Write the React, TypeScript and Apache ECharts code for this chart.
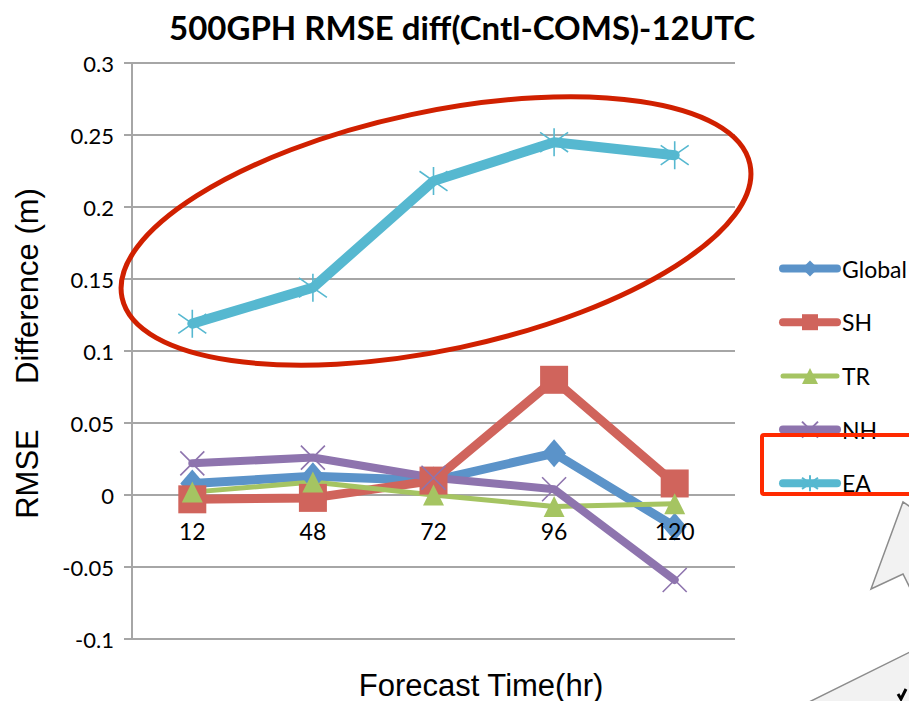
import React, { useEffect, useRef } from "react";
import * as echarts from "echarts";

// Forecast lead times (hours)
const categories = ["12", "48", "72", "96", "120"];

// RMSE difference (Cntl - COMS) of 500 hPa geopotential height, metres
const globalValues = [0.008, 0.013, 0.01, 0.029, -0.022];
const shValues = [-0.003, -0.002, 0.01, 0.08, 0.008];
const trValues = [0.002, 0.009, 0.0, -0.008, -0.006];
const nhValues = [0.022, 0.026, 0.012, 0.004, -0.059];
const eaValues = [0.119, 0.144, 0.218, 0.245, 0.236];

const seriesNames = ["Global", "SH", "TR", "NH", "EA"];

const LABEL_FONT = "Lato, 'Open Sans', sans-serif";
const AXIS_TITLE_FONT = "'Liberation Sans', Arial, sans-serif";

const X_SYMBOL = "path://M0 0L10 10M10 0L0 10";
const STAR_SYMBOL = "path://M5 0L5 10M0 1.5L10 8.5M10 1.5L0 8.5";

const Y_MIN = -0.1;
const Y_MAX = 0.3;
const GRID_TOP = 63;
const GRID_BOTTOM = 62;
const CHART_H = 701;

export default function App() {
  const ref = useRef<HTMLDivElement>(null);

  useEffect(() => {
    if (!ref.current) return;
    const chart = echarts.init(ref.current, undefined, { renderer: "svg" });

    // the category axis crosses the value axis at zero
    const plotH = CHART_H - GRID_TOP - GRID_BOTTOM;
    const zeroOffset = -plotH * ((0 - Y_MIN) / (Y_MAX - Y_MIN));

    const lineSeries = (
      name: string,
      data: number[],
      color: string,
      width: number,
      symbol: string,
      symbolSize: number | number[],
      stroked: boolean
    ) => ({
      name,
      type: "line",
      data,
      symbol,
      symbolSize,
      showAllSymbol: true,
      lineStyle: { color, width, cap: "round", join: "round" },
      itemStyle: stroked
        ? { color, borderColor: color, borderWidth: 1.6 }
        : { color, borderWidth: 0 },
      emphasis: { disabled: true },
    });

    const legendWidths: Record<string, number> = {
      Global: 8,
      SH: 8,
      TR: 5,
      NH: 8,
      EA: 8,
    };

    chart.setOption({
      animation: false,
      backgroundColor: "#ffffff",
      grid: { left: 132, right: 174, top: GRID_TOP, bottom: GRID_BOTTOM },
      legend: {
        orient: "vertical",
        left: 779,
        top: 257,
        itemWidth: 54,
        itemHeight: 20,
        itemGap: 30.7,
        padding: 0,
        data: seriesNames.map((n) => ({
          name: n,
          lineStyle: { width: legendWidths[n], cap: "round" },
        })),
        textStyle: { fontFamily: LABEL_FONT, fontSize: 23, color: "#000" },
        selectedMode: false,
      },
      xAxis: {
        type: "category",
        data: categories,
        boundaryGap: true,
        offset: zeroOffset,
        z: 5,
        axisLine: { show: false, onZero: false },
        axisTick: { show: false },
        axisLabel: {
          margin: 24,
          fontFamily: LABEL_FONT,
          fontSize: 23,
          color: "#000",
        },
        splitLine: { show: false },
      },
      yAxis: {
        type: "value",
        min: Y_MIN,
        max: Y_MAX,
        interval: 0.05,
        axisLine: { show: true, onZero: false, lineStyle: { color: "#a6a6a6", width: 2 } },
        axisTick: {
          show: true,
          length: 8,
          lineStyle: { color: "#a6a6a6", width: 2 },
        },
        axisLabel: {
          margin: 18,
          fontFamily: LABEL_FONT,
          fontSize: 22,
          color: "#000",
          formatter: (v: number) => String(Math.round(v * 100) / 100),
        },
        splitLine: { show: true, lineStyle: { color: "#a6a6a6", width: 2 } },
      },
      series: [
        lineSeries("Global", globalValues, "#5b93c9", 9, "diamond", [24, 28], false),
        lineSeries("SH", shValues, "#d0645c", 9, "rect", 28, false),
        lineSeries("TR", trValues, "#a5c462", 5, "triangle", 21, false),
        lineSeries("NH", nhValues, "#8e74ae", 8, X_SYMBOL, 24, true),
        lineSeries("EA", eaValues, "#56b8d0", 10, STAR_SYMBOL, 28, true),
      ],
      graphic: [
        {
          type: "text",
          x: 462,
          y: 27,
          style: {
            text: "500GPH RMSE diff(Cntl-COMS)-12UTC",
            fontFamily: LABEL_FONT,
            fontWeight: "bold",
            fontSize: 33,
            fill: "#000",
            textAlign: "center",
            textVerticalAlign: "middle",
          },
        },
        {
          type: "text",
          x: 27,
          y: 474,
          rotation: Math.PI / 2,
          style: {
            text: "RMSE",
            fontFamily: AXIS_TITLE_FONT,
            fontSize: 31,
            fill: "#000",
            textAlign: "center",
            textVerticalAlign: "middle",
          },
        },
        {
          type: "text",
          x: 27,
          y: 286,
          rotation: Math.PI / 2,
          style: {
            text: "Difference (m)",
            fontFamily: AXIS_TITLE_FONT,
            fontSize: 31,
            fill: "#000",
            textAlign: "center",
            textVerticalAlign: "middle",
          },
        },
        {
          type: "text",
          x: 481,
          y: 685,
          style: {
            text: "Forecast Time(hr)",
            fontFamily: AXIS_TITLE_FONT,
            fontSize: 31,
            fill: "#000",
            textAlign: "center",
            textVerticalAlign: "middle",
          },
        },
        // highlight ring around the EA curve
        {
          type: "ellipse",
          x: 436,
          y: 231,
          rotation: (12 * Math.PI) / 180,
          shape: { cx: 0, cy: 0, rx: 321, ry: 119 },
          style: { fill: "none", stroke: "#d02000", lineWidth: 5 },
          z: 10,
        },
        // box around the EA legend entry
        {
          type: "rect",
          shape: { x: 762, y: 435, width: 200, height: 59, r: 2 },
          style: { fill: "none", stroke: "#ff2a00", lineWidth: 4 },
          z: 10,
        },
        // callout shapes at the lower right
        {
          type: "polygon",
          shape: {
            points: [
              [912, 508],
              [903, 502],
              [871, 589],
              [903, 574],
              [912, 592],
            ],
          },
          style: { fill: "#f2f2f2", stroke: "#8c8c8c", lineWidth: 1.5 },
          z: 10,
        },
        {
          type: "polygon",
          shape: {
            points: [
              [807, 703],
              [912, 651],
              [912, 703],
            ],
          },
          style: { fill: "#f2f2f2", stroke: "#8c8c8c", lineWidth: 1.5 },
          z: 10,
        },
        {
          type: "polyline",
          shape: {
            points: [
              [898, 694],
              [901, 699],
              [906, 689],
            ],
          },
          style: { stroke: "#000", lineWidth: 3, fill: "none" },
          z: 11,
        },
      ],
    });

    return () => chart.dispose();
  }, []);

  return (
    <div
      ref={ref}
      style={{ position: "fixed", left: 0, top: 0, width: 909, height: 701 }}
    />
  );
}
